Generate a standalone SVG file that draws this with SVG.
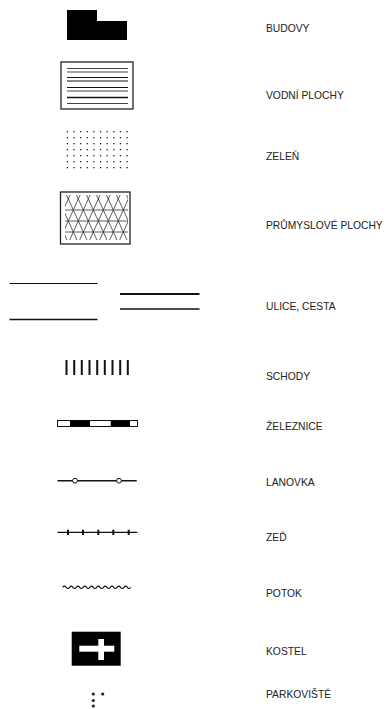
<svg xmlns="http://www.w3.org/2000/svg" width="387" height="709" viewBox="0 0 387 709">
  <style>
    .lbl { font-family: "Liberation Sans", Arial, sans-serif; font-size: 10.3px; fill: #222; }
    .ln { stroke: #111; fill: none; }
    .hatch { stroke: #333; stroke-width: 0.8; fill: none; }
    .dot { fill: #222; }
  </style>
  <defs>
    <clipPath id="indClip">
      <rect x="65" y="195" width="63" height="45"/>
    </clipPath>
  </defs>

  <rect width="387" height="709" fill="#fff"/>

  <!-- buildings -->
  <g id="budovy">
    <polygon points="67,10 97,10 97,21 127,21 127,40 67,40" fill="#000"/>
    <text class="lbl" x="266" y="32">BUDOVY</text>
  </g>

  <!-- water areas -->
  <g id="vodni-plochy">
    <rect x="61" y="62" width="72" height="47" fill="#fff" stroke="#222" stroke-width="1.3"/>
    <g class="ln">
      <line x1="67" y1="68.5" x2="128" y2="68.5" stroke-width="0.8"/>
      <line x1="67" y1="72" x2="128" y2="72" stroke-width="0.8"/>
      <line x1="67" y1="77.5" x2="128" y2="77.5" stroke-width="1"/>
      <line x1="67" y1="81" x2="128" y2="81" stroke-width="1"/>
      <line x1="67" y1="87.5" x2="128" y2="87.5" stroke-width="1.2"/>
      <line x1="67" y1="91" x2="128" y2="91" stroke-width="0.8"/>
      <line x1="67" y1="97.5" x2="128" y2="97.5" stroke-width="1.5"/>
      <line x1="67" y1="103.5" x2="128" y2="103.5" stroke-width="0.8"/>
    </g>
    <text class="lbl" x="266" y="99">VODNÍ PLOCHY</text>
  </g>

  <!-- greenery: dot grid -->
  <g id="zelen">
    <g class="dot">
      <!-- rows every 6 px, columns every 6.63 px -->
      <g id="dotrow">
        <rect x="66.7" y="131" width="1.3" height="1.3"/>
        <rect x="73.3" y="131" width="1.3" height="1.3"/>
        <rect x="80" y="131" width="1.3" height="1.3"/>
        <rect x="86.6" y="131" width="1.3" height="1.3"/>
        <rect x="93.2" y="131" width="1.3" height="1.3"/>
        <rect x="99.9" y="131" width="1.3" height="1.3"/>
        <rect x="106.5" y="131" width="1.3" height="1.3"/>
        <rect x="113.1" y="131" width="1.3" height="1.3"/>
        <rect x="119.8" y="131" width="1.3" height="1.3"/>
        <rect x="126.4" y="131" width="1.3" height="1.3"/>
      </g>
      <use href="#dotrow" y="6"/>
      <use href="#dotrow" y="12"/>
      <use href="#dotrow" y="18"/>
      <use href="#dotrow" y="24"/>
      <use href="#dotrow" y="30"/>
      <use href="#dotrow" y="36"/>
    </g>
    <text class="lbl" x="266" y="160">ZELEŇ</text>
  </g>

  <!-- industrial areas: triangular lattice -->
  <g id="prumyslove-plochy">
    <rect x="60.5" y="192" width="69.5" height="52" fill="#fff" stroke="#222" stroke-width="1.3"/>
    <g clip-path="url(#indClip)" class="hatch">
      <line x1="64" y1="210" x2="129" y2="210"/>
      <line x1="64" y1="221" x2="129" y2="221"/>
      <line x1="64" y1="232" x2="129" y2="232"/>
      <line x1="45.6" y1="193" x2="68.3" y2="243"/>
      <line x1="55.6" y1="193" x2="78.3" y2="243"/>
      <line x1="65.6" y1="193" x2="88.3" y2="243"/>
      <line x1="75.6" y1="193" x2="98.3" y2="243"/>
      <line x1="85.6" y1="193" x2="108.3" y2="243"/>
      <line x1="95.6" y1="193" x2="118.3" y2="243"/>
      <line x1="105.6" y1="193" x2="128.3" y2="243"/>
      <line x1="115.6" y1="193" x2="138.3" y2="243"/>
      <line x1="125.6" y1="193" x2="148.3" y2="243"/>
      <line x1="71" y1="193" x2="48.3" y2="243"/>
      <line x1="81" y1="193" x2="58.3" y2="243"/>
      <line x1="91" y1="193" x2="68.3" y2="243"/>
      <line x1="101" y1="193" x2="78.3" y2="243"/>
      <line x1="111" y1="193" x2="88.3" y2="243"/>
      <line x1="121" y1="193" x2="98.3" y2="243"/>
      <line x1="131" y1="193" x2="108.3" y2="243"/>
      <line x1="141" y1="193" x2="118.3" y2="243"/>
      <line x1="151" y1="193" x2="128.3" y2="243"/>
    </g>
    <text class="lbl" x="266" y="229">PRŮMYSLOVÉ PLOCHY</text>
  </g>

  <!-- streets and roads -->
  <g id="ulice-cesta">
    <g class="ln">
      <line x1="9.5" y1="283.5" x2="97.5" y2="283.5" stroke-width="1.1"/>
      <line x1="9.5" y1="319.5" x2="97.5" y2="319.5" stroke-width="1.6"/>
      <line x1="120" y1="294" x2="199.5" y2="294" stroke-width="2"/>
      <line x1="120" y1="309" x2="199.5" y2="309" stroke-width="1.4"/>
    </g>
    <text class="lbl" x="266" y="310">ULICE, CESTA</text>
  </g>

  <!-- stairs -->
  <g id="schody">
    <g class="ln" stroke-width="2">
      <line x1="66.5" y1="360" x2="66.5" y2="375"/>
      <line x1="74.2" y1="360" x2="74.2" y2="375"/>
      <line x1="81.8" y1="360" x2="81.8" y2="375"/>
      <line x1="89.5" y1="360" x2="89.5" y2="375"/>
      <line x1="97.2" y1="360" x2="97.2" y2="375"/>
      <line x1="104.8" y1="360" x2="104.8" y2="375"/>
      <line x1="112.5" y1="360" x2="112.5" y2="375"/>
      <line x1="120.2" y1="360" x2="120.2" y2="375"/>
      <line x1="127.8" y1="360" x2="127.8" y2="375"/>
    </g>
    <text class="lbl" x="266" y="380">SCHODY</text>
  </g>

  <!-- railway -->
  <g id="zeleznice">
    <rect x="57.5" y="420.5" width="80" height="6" fill="#fff" stroke="#111" stroke-width="1"/>
    <rect x="70" y="420.5" width="20" height="6" fill="#000"/>
    <rect x="110.7" y="420.5" width="19.3" height="6" fill="#000"/>
    <text class="lbl" x="266" y="430">ŽELEZNICE</text>
  </g>

  <!-- cable car -->
  <g id="lanovka">
    <line class="ln" x1="57.5" y1="480.7" x2="136.7" y2="480.7" stroke-width="1.5"/>
    <circle cx="75" cy="480.7" r="2.4" fill="#fff" stroke="#111" stroke-width="1"/>
    <circle cx="119" cy="480.7" r="2.4" fill="#fff" stroke="#111" stroke-width="1"/>
    <text class="lbl" x="266" y="486">LANOVKA</text>
  </g>

  <!-- wall -->
  <g id="zed">
    <line class="ln" x1="57.5" y1="532.3" x2="137.3" y2="532.3" stroke-width="1.3"/>
    <g class="ln" stroke-width="2">
      <line x1="68" y1="529.7" x2="68" y2="535"/>
      <line x1="83" y1="529.7" x2="83" y2="535"/>
      <line x1="98.3" y1="529.7" x2="98.3" y2="535"/>
      <line x1="113.3" y1="529.7" x2="113.3" y2="535"/>
      <line x1="128.7" y1="529.7" x2="128.7" y2="535"/>
    </g>
    <text class="lbl" x="266" y="541">ZEĎ</text>
  </g>

  <!-- stream -->
  <g id="potok">
    <path class="ln" stroke-width="1.1" d="M62.7,587.3 q1.7,-2.3 3.4,0 t3.4,0 t3.4,0 t3.4,0 t3.4,0 t3.4,0 t3.4,0 t3.4,0 t3.4,0 t3.4,0 t3.4,0 t3.4,0 t3.4,0 t3.4,0 t3.4,0 t3.4,0 t3.4,0 t3.4,0 t3.4,0 t3.4,0"/>
    <text class="lbl" x="266" y="597">POTOK</text>
  </g>

  <!-- church -->
  <g id="kostel">
    <rect x="71.7" y="631.7" width="49" height="34" fill="#000"/>
    <rect x="79.3" y="645.7" width="35" height="6" fill="#fff"/>
    <rect x="98.3" y="639" width="5.7" height="21" fill="#fff"/>
    <text class="lbl" x="266" y="655">KOSTEL</text>
  </g>

  <!-- parking -->
  <g id="parkoviste">
    <circle class="dot" cx="93.3" cy="694" r="1.6"/>
    <circle class="dot" cx="102.7" cy="694" r="1.6"/>
    <circle class="dot" cx="93.3" cy="700.5" r="1.6"/>
    <circle class="dot" cx="93.3" cy="706" r="1.6"/>
    <text class="lbl" x="266" y="698">PARKOVIŠTĚ</text>
  </g>
</svg>
